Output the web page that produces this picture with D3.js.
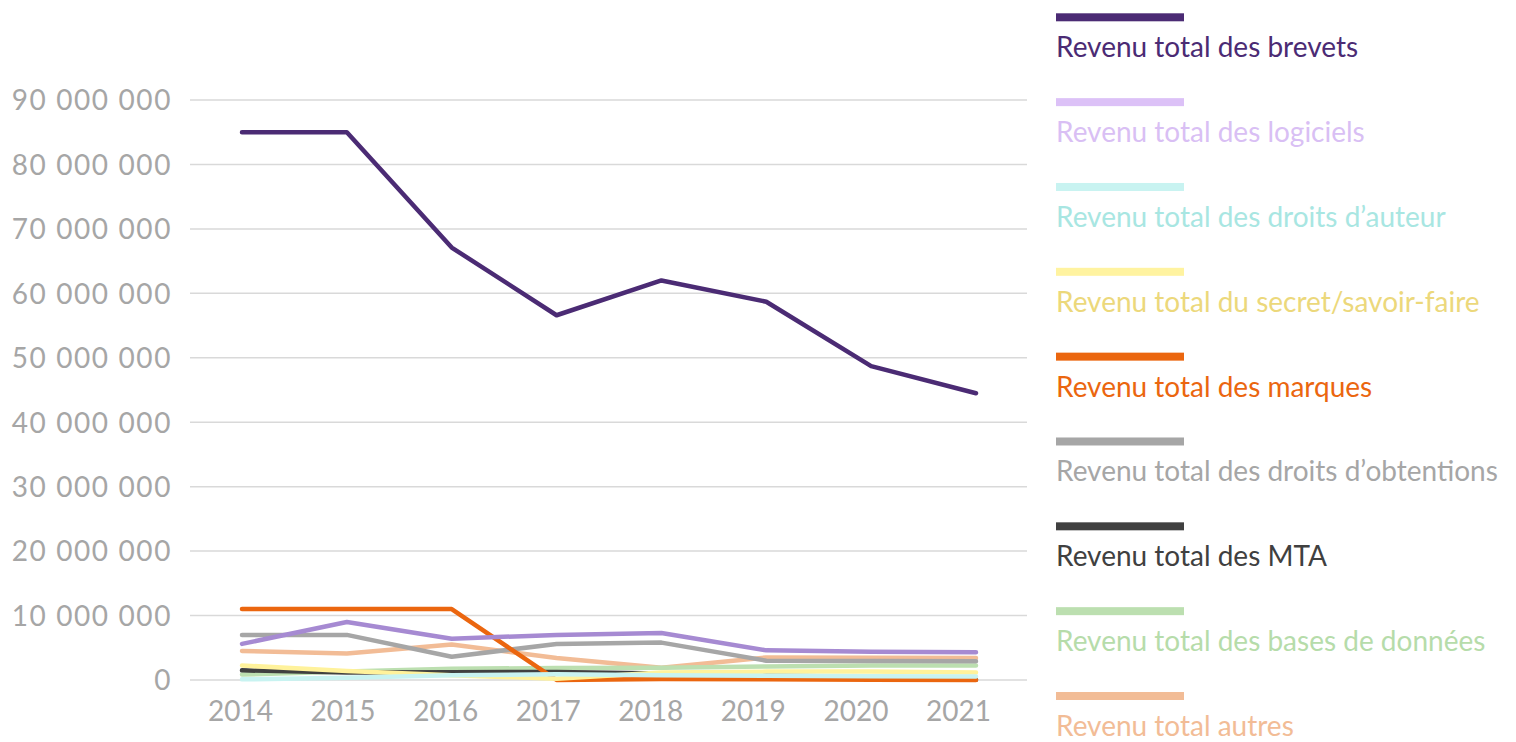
<!DOCTYPE html>
<html lang="fr">
<head>
<meta charset="utf-8">
<script src="https://cdn.jsdelivr.net/npm/d3@7"></script>
<style>
  html, body { margin: 0; padding: 0; background: #ffffff; }
  svg { display: block; font-family: Lato, "Open Sans", sans-serif; }
</style>
</head>
<body>
<svg id="chart" width="1516" height="742"></svg>
<script>
// Années et revenus (en euros) par type de propriété intellectuelle
const years = ["2014", "2015", "2016", "2017", "2018", "2019", "2020", "2021"];

const seriesNames = [
  "Revenu total des brevets",
  "Revenu total des logiciels",
  "Revenu total des droits d\u2019auteur",
  "Revenu total du secret/savoir-faire",
  "Revenu total des marques",
  "Revenu total des droits d\u2019obtentions",
  "Revenu total des MTA",
  "Revenu total des bases de donn\u00e9es",
  "Revenu total autres"
];

const brevets      = [85000000, 85000000, 67100000, 56600000, 62000000, 58700000, 48700000, 44500000];
const logiciels    = [5600000, 9000000, 6400000, 7000000, 7300000, 4600000, 4400000, 4300000];
const droitsAuteur = [100000, 350000, 750000, 900000, 750000, 650000, 600000, 550000];
const secret       = [2250000, 1400000, 750000, 200000, 1150000, 1300000, 1300000, 1150000];
const marques      = [11000000, 11000000, 11000000, 0, 150000, 100000, 50000, 0];
const obtentions   = [7000000, 7000000, 3600000, 5600000, 5800000, 3000000, 2950000, 2900000];
const mta          = [1500000, 1150000, 1200000, 1250000, 1000000, 700000, 450000, 50000];
const bases        = [850000, 1300000, 1750000, 1850000, 1900000, 2100000, 2250000, 2250000];
const autres       = [4500000, 4100000, 5500000, 3400000, 1900000, 3500000, 3450000, 3400000];

const yTicks = [0, 10000000, 20000000, 30000000, 40000000, 50000000, 60000000, 70000000, 80000000, 90000000];

const lineColors   = ["#4b2b74", "#a68ad2", "#c8f3f1", "#fff29b", "#eb660f", "#a6a6a6", "#404040", "#bcdfb0", "#f2bc96"];
const swatchColors = ["#4b2b74", "#dcc1f7", "#c8f3f1", "#fff3a0", "#eb660f", "#a6a6a6", "#404040", "#bcdfb0", "#f2bc96"];
const textColors   = ["#4b2b74", "#d9bff4", "#a8e6e2", "#ecd87b", "#eb660f", "#a6a6a6", "#404040", "#b6dcaa", "#f2bc96"];

const allValues = [brevets, logiciels, droitsAuteur, secret, marques, obtentions, mta, bases, autres];
const series = seriesNames.map((name, i) => ({ name, values: allValues[i], i }));

const svg = d3.select("#chart");

// Échelles
const y = d3.scaleLinear().domain([0, 90000000]).range([680, 100]);
const x = d3.scalePoint().domain(years).range([242, 976]);
const xLabels = d3.scalePoint().domain(years).range([240, 958]);

// Lignes de grille horizontales
svg.append("g")
  .selectAll("line")
  .data(yTicks)
  .join("line")
  .attr("x1", 190)
  .attr("x2", 1027)
  .attr("y1", d => y(d))
  .attr("y2", d => y(d))
  .attr("stroke", "#d9d9d9")
  .attr("stroke-width", 1.5);

// Axe vertical : libellés seulement
const fmt = v => d3.format(",")(v).replace(/,/g, " ");
const yAxis = svg.append("g")
  .attr("transform", "translate(172,0)")
  .call(d3.axisLeft(y).tickValues(yTicks).tickFormat(fmt).tickSize(0).tickPadding(0));
yAxis.select(".domain").remove();
yAxis.selectAll("text")
  .attr("fill", "#a6a6a6")
  .attr("font-size", 28)
  .attr("letter-spacing", 1.6)
  .attr("font-family", "Lato, sans-serif")
  .attr("dy", "0.35em");

// Axe horizontal : années
const xAxis = svg.append("g")
  .attr("transform", "translate(0,680)")
  .call(d3.axisBottom(xLabels).tickSize(0).tickPadding(0));
xAxis.select(".domain").remove();
xAxis.selectAll("text")
  .attr("fill", "#a6a6a6")
  .attr("font-size", 28)
  .attr("font-family", "Lato, sans-serif")
  .attr("dy", null)
  .attr("y", 41);

// Courbes
const line = d3.line()
  .x((d, k) => x(years[k]))
  .y(d => y(d));

svg.append("g")
  .selectAll("path")
  .data(series.slice().reverse())
  .join("path")
  .attr("d", d => line(d.values))
  .attr("fill", "none")
  .attr("stroke", d => lineColors[d.i])
  .attr("stroke-width", 4.5)
  .attr("stroke-linecap", "round")
  .attr("stroke-linejoin", "round");

// Légende
const legendY = d3.scalePoint().domain(seriesNames).range([17.3, 696]);
const legend = svg.append("g")
  .selectAll("g")
  .data(series)
  .join("g")
  .attr("transform", d => `translate(1056,${legendY(d.name)})`);

legend.append("rect")
  .attr("x", 0)
  .attr("y", -4)
  .attr("width", 128)
  .attr("height", 8)
  .attr("fill", d => swatchColors[d.i]);

legend.append("text")
  .attr("x", 0)
  .attr("y", 40)
  .attr("font-size", 28)
  .attr("font-family", "Lato, sans-serif")
  .attr("fill", d => textColors[d.i])
  .text(d => d.name);
</script>
</body>
</html>
